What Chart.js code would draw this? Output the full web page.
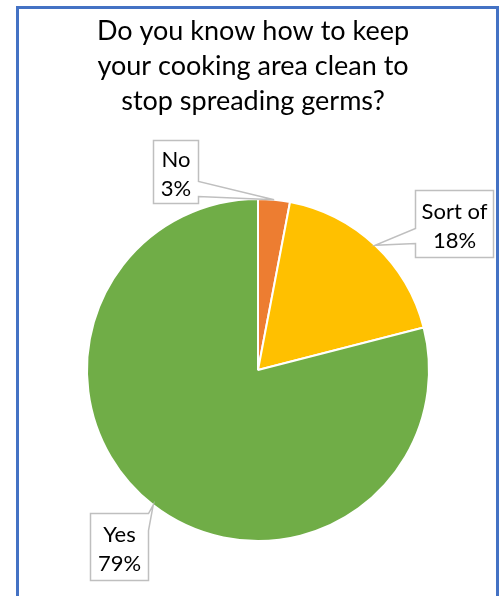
<!DOCTYPE html>
<html>
<head>
<meta charset="utf-8">
<script src="https://cdn.jsdelivr.net/npm/chart.js@4/dist/chart.umd.min.js"></script>
<style>
  html, body { margin: 0; padding: 0; background: #fff; }
  #wrap { position: relative; width: 504px; height: 596px; }
  canvas { display: block; }
</style>
</head>
<body>
<div id="wrap"><canvas id="c" width="504" height="596"></canvas></div>
<script>
// Survey question and answers
const titleLines = ['Do you know how to keep', 'your cooking area clean to', 'stop spreading germs?'];
const categories = ['No', 'Sort of', 'Yes'];
const shares = [3, 18, 79];

// Palette
const sliceColors = ['#ED7D31', '#FFC000', '#70AD47'];

const FONT = 'Lato, "Open Sans", "Liberation Sans", sans-serif';

// Callout boxes: offset of box centre from the slice's outer mid-point,
// box size, and which side the pointer leaves from (t0..t1 along that side).
const calloutLayout = [
  { dx: -98.5, dy: -28.3, w: 45, h: 63, side: 'right', t0: 41, t1: 56 },
  { dx: 79,    dy: -22,   w: 78, h: 67, side: 'left',  t0: 38, t1: 53 },
  { dx: -34,   dy: 41.5,  w: 58, h: 67, side: 'right', t0: 0,  t1: 17 }
];

const framePlugin = {
  id: 'frame',
  beforeDraw(chart) {
    const ctx = chart.ctx;
    ctx.save();
    ctx.fillStyle = '#ffffff';
    ctx.fillRect(0, 0, chart.width, chart.height);
    ctx.restore();
  },
  afterDraw(chart) {
    const ctx = chart.ctx;
    ctx.save();
    ctx.strokeStyle = '#4472C4';
    ctx.lineWidth = 3;
    ctx.strokeRect(17.5, 7.5, 480, chart.height + 20);
    ctx.restore();
  }
};

const headingPlugin = {
  id: 'heading',
  afterDraw(chart) {
    const ctx = chart.ctx;
    ctx.save();
    ctx.fillStyle = '#000000';
    ctx.font = '27px ' + FONT;
    ctx.textAlign = 'center';
    ctx.textBaseline = 'alphabetic';
    titleLines.forEach((line, i) => {
      ctx.fillText(line, 253, 40 + i * 35);
    });
    ctx.restore();
  }
};

const calloutPlugin = {
  id: 'callouts',
  afterDatasetsDraw(chart) {
    const ctx = chart.ctx;
    const arcs = chart.getDatasetMeta(0).data;
    ctx.save();
    arcs.forEach((arc, i) => {
      const p = arc.getProps(['x', 'y', 'startAngle', 'endAngle', 'outerRadius'], true);
      const mid = (p.startAngle + p.endAngle) / 2;
      const ax = p.x + Math.cos(mid) * p.outerRadius;
      const ay = p.y + Math.sin(mid) * p.outerRadius;
      const L = calloutLayout[i];
      const left = Math.round(ax + L.dx - L.w / 2) + 0.5;
      const top = Math.round(ay + L.dy - L.h / 2) + 0.5;
      const right = left + L.w;
      const bottom = top + L.h;

      ctx.beginPath();
      ctx.moveTo(left, top);
      ctx.lineTo(right, top);
      if (L.side === 'right') {
        ctx.lineTo(right, top + L.t0);
        ctx.lineTo(ax, ay);
        ctx.lineTo(right, top + L.t1);
      }
      ctx.lineTo(right, bottom);
      ctx.lineTo(left, bottom);
      if (L.side === 'left') {
        ctx.lineTo(left, top + L.t1);
        ctx.lineTo(ax, ay);
        ctx.lineTo(left, top + L.t0);
      }
      ctx.closePath();
      ctx.fillStyle = '#ffffff';
      ctx.fill();
      ctx.strokeStyle = '#BFBFBF';
      ctx.lineWidth = 1.5;
      ctx.lineJoin = 'miter';
      ctx.stroke();

      const cx = left + L.w / 2;
      const cy = top + L.h / 2;
      ctx.fillStyle = '#000000';
      ctx.font = '22px ' + FONT;
      ctx.textAlign = 'center';
      ctx.textBaseline = 'alphabetic';
      ctx.fillText(categories[i], cx, cy - 5);
      ctx.fillText(shares[i] + '%', cx, cy + 24);
    });
    ctx.restore();
  }
};

new Chart(document.getElementById('c'), {
  type: 'pie',
  data: {
    labels: categories,
    datasets: [{
      data: shares,
      backgroundColor: sliceColors,
      borderColor: '#ffffff',
      borderWidth: 2
    }]
  },
  options: {
    responsive: false,
    animation: false,
    devicePixelRatio: 1,
    layout: { padding: { top: 198, left: 86, right: 74, bottom: 54 } },
    plugins: {
      legend: { display: false },
      title: { display: false },
      tooltip: { enabled: false }
    },
    events: []
  },
  plugins: [framePlugin, calloutPlugin, headingPlugin]
});
</script>
</body>
</html>
